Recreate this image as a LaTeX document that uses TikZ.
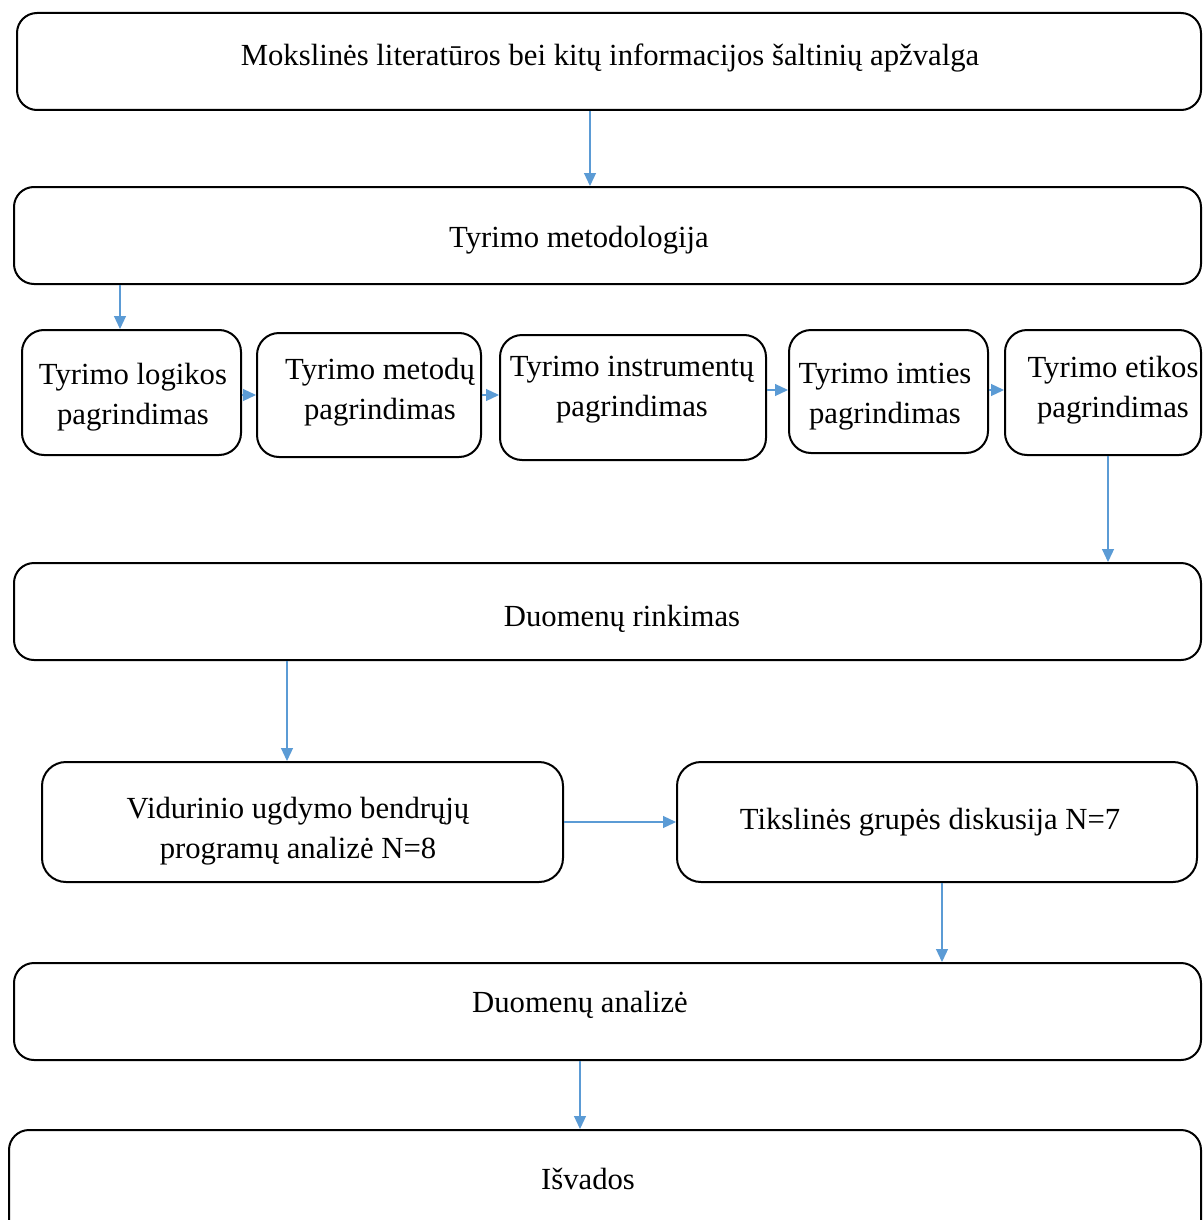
\documentclass[tikz,border=0pt]{standalone}
\usepackage{fontspec}
\setmainfont{Liberation Serif}
\usetikzlibrary{arrows.meta}
\definecolor{arrowblue}{RGB}{91,155,213}
\begin{document}
\begin{tikzpicture}[x=1pt,y=-1pt,
  frame/.style={draw=black,line width=2pt,rounded corners=20pt,fill=white,inner sep=0pt},
  stage/.style={frame,minimum width=1187pt,minimum height=97pt},
  sub/.style={frame,rounded corners=22pt},
  lbl/.style={font=\fontsize{30.7}{40}\selectfont,align=center,inner sep=0pt},
  flow/.style={draw=arrowblue,line width=1.2pt,-{Triangle[length=13pt,width=12pt]}}]
\useasboundingbox (0,0) rectangle (1203,1220);
\clip (0,0) rectangle (1203,1220);
\fill[white] (0,0) rectangle (1203,1220);

% main stages
\node[stage,minimum width=1184pt] (lit) at (609,61.5) {};
\node[lbl] (litT) at (610,58) {Mokslinės literatūros bei kitų informacijos šaltinių apžvalga};
\node[stage] (met) at (607.5,235.5) {};
\node[lbl] (metT) at (579,240) {Tyrimo metodologija};

% justification steps
\node[sub,minimum width=219pt,minimum height=125pt] (s1) at (131.5,392.5) {};
\node[lbl] (s1T) at (133,397) {Tyrimo logikos\\pagrindimas};
\node[sub,minimum width=224pt,minimum height=124pt] (s2) at (369,395) {};
\node[lbl] (s2T) at (380,392) {Tyrimo metodų\\pagrindimas};
\node[sub,minimum width=266pt,minimum height=125pt] (s3) at (633,397.5) {};
\node[lbl] (s3T) at (632,390) {Tyrimo instrumentų\\pagrindimas};
\node[sub,minimum width=199pt,minimum height=123pt] (s4) at (888.5,391.5) {};
\node[lbl] (s4T) at (885,397) {Tyrimo imties\\pagrindimas};
\node[sub,minimum width=196pt,minimum height=125pt] (s5) at (1103,392.5) {};
\node[lbl] (s5T) at (1113,390) {Tyrimo etikos\\pagrindimas};

\node[stage] (col) at (607.5,611.5) {};
\node[lbl] (colT) at (622,619) {Duomenų rinkimas};

% data sources
\node[frame,rounded corners=24pt,minimum width=521pt,minimum height=120pt] (cur) at (302.5,822) {};
\node[lbl] (curT) at (298,831) {Vidurinio ugdymo bendrųjų\\programų analizė N=8};
\node[frame,rounded corners=24pt,minimum width=520pt,minimum height=120pt] (fg) at (937,822) {};
\node[lbl] (fgT) at (930,822) {Tikslinės grupės diskusija N=7};

\node[stage] (ana) at (607.5,1011.5) {};
\node[lbl] (anaT) at (580,1005) {Duomenų analizė};
\node[stage,minimum width=1192pt,minimum height=110pt] (con) at (605,1185) {};
\node[lbl] (conT) at (588,1179) {Išvados};

% reference rows for the connectors
\coordinate (ya) at (0,395);
\coordinate (yb) at (0,390);
\coordinate (yc) at (0,822);

\draw[flow] (lit.south -| 590,0) -- (met.north -| 590,0);
\draw[flow] (met.south -| 120,0) -- (s1.north -| 120,0);
\draw[flow] (s1.east |- ya) -- (s2.west |- ya);
\draw[flow] (s2.east |- ya) -- (s3.west |- ya);
\draw[flow] (s3.east |- yb) -- (s4.west |- yb);
\draw[flow] (s4.east |- yb) -- (s5.west |- yb);
\draw[flow] (s5.south -| 1108,0) -- (col.north -| 1108,0);
\draw[flow] (col.south -| 287,0) -- (cur.north -| 287,0);
\draw[flow] (cur.east |- yc) -- (fg.west |- yc);
\draw[flow] (fg.south -| 942,0) -- (ana.north -| 942,0);
\draw[flow] (ana.south -| 580,0) -- (con.north -| 580,0);
\end{tikzpicture}
\end{document}
